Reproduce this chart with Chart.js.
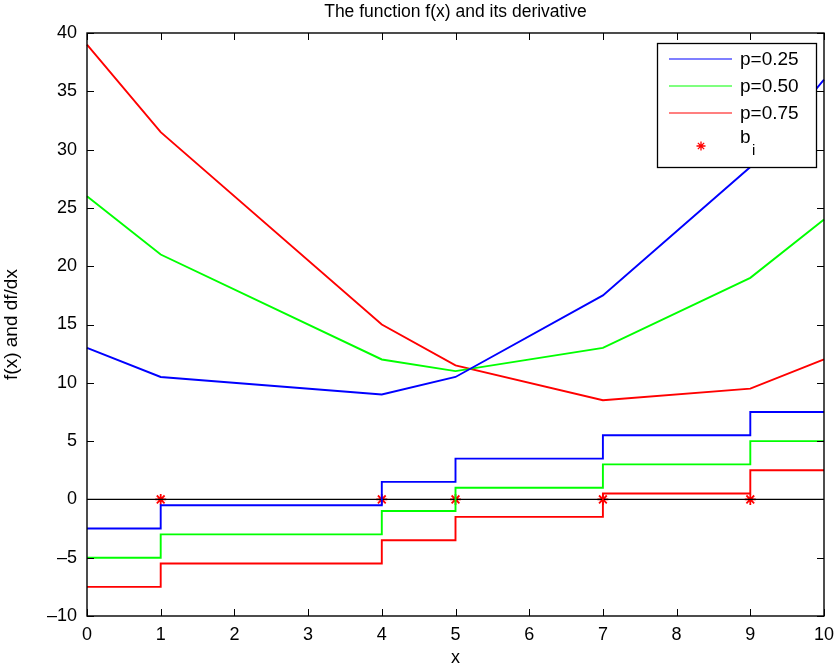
<!DOCTYPE html>
<html>
<head>
<meta charset="utf-8">
<script src="https://cdn.jsdelivr.net/npm/chart.js@4.4.0/dist/chart.umd.min.js"></script>
<style>
  html, body { margin: 0; padding: 0; background: #fff; }
  #wrap { width: 840px; height: 669px; }
</style>
</head>
<body>
<div id="wrap"><canvas id="myChart" width="840" height="669"></canvas></div>
<script>
// breakpoints and values
const xBreaks = [0, 1, 4, 5, 7, 9, 10];
const f25 = [13, 10.5, 9, 10.5, 17.5, 28.5, 36];
const f50 = [26, 21, 12, 11, 13, 19, 24];
const f75 = [39, 31.5, 15, 11.5, 8.5, 9.5, 12];
const d25 = [-2.5, -0.5, 1.5, 3.5, 5.5, 7.5, 7.5];
const d50 = [-5, -3, -1, 1, 3, 5, 5];
const d75 = [-7.5, -5.5, -3.5, -1.5, 0.5, 2.5, 2.5];
const bPoints = [1, 4, 5, 7, 9];
const labels = ['p=0.25', 'p=0.50', 'p=0.75'];
const colors = ['#0000ff', '#00ff00', '#ff0000'];

const FONT = 'Liberation Sans, Arial, sans-serif';

function pts(ys) {
    return xBreaks.map((x, i) => ({x: x, y: ys[i]}));
}

function lineSet(label, ys, color, stepped) {
    return {
        label: label,
        data: pts(ys),
        borderColor: color,
        backgroundColor: color,
        borderWidth: 1.9,
        pointRadius: 0,
        showLine: true,
        stepped: stepped ? true : false,
        tension: 0
    };
}

// inward ticks on all four sides + box
const boxTicks = {
    id: 'boxTicks',
    afterDatasetsDraw(chart) {
        const {ctx, chartArea: a, scales: {x, y}} = chart;
        ctx.save();
        ctx.strokeStyle = '#000';
        ctx.lineWidth = 1;
        ctx.beginPath();
        for (let v = 0; v <= 10; v++) {
            const px = Math.round(x.getPixelForValue(v)) + 0.5;
            ctx.moveTo(px, a.bottom); ctx.lineTo(px, a.bottom - 7);
            ctx.moveTo(px, a.top); ctx.lineTo(px, a.top + 7);
        }
        for (let v = -10; v <= 40; v += 5) {
            const py = Math.round(y.getPixelForValue(v)) + 0.5;
            ctx.moveTo(a.left, py); ctx.lineTo(a.left + 7, py);
            ctx.moveTo(a.right, py); ctx.lineTo(a.right - 7, py);
        }
        ctx.stroke();
        ctx.lineWidth = 1.4;
        ctx.strokeRect(a.left, a.top, a.right - a.left, a.bottom - a.top);
        ctx.restore();
    }
};

// legend box inside the axes, top right
const boxLegend = {
    id: 'boxLegend',
    afterDraw(chart) {
        const {ctx, chartArea: a} = chart;
        const L = a.right - 167, T = a.top + 10, W = 159, H = 124;
        ctx.save();
        ctx.fillStyle = '#fff';
        ctx.fillRect(L, T, W, H);
        ctx.strokeStyle = '#000';
        ctx.lineWidth = 1.3;
        ctx.strokeRect(L + 0.5, T + 0.5, W, H);
        ctx.font = '19px ' + FONT;
        ctx.textBaseline = 'middle';
        ctx.fillStyle = '#000';
        for (let i = 0; i < 3; i++) {
            const yy = T + 16 + i * 27;
            ctx.strokeStyle = colors[i];
            ctx.lineWidth = 1.2;
            ctx.beginPath();
            ctx.moveTo(L + 12, yy); ctx.lineTo(L + 75, yy);
            ctx.stroke();
            ctx.fillText(labels[i], L + 83, yy + 1);
        }
        // b_i row
        const yb = T + 103;
        const cx = L + 44;
        ctx.strokeStyle = '#ff0000';
        ctx.lineWidth = 1.3;
        ctx.beginPath();
        const r = 4.5;
        ctx.moveTo(cx - r, yb); ctx.lineTo(cx + r, yb);
        ctx.moveTo(cx, yb - r); ctx.lineTo(cx, yb + r);
        ctx.moveTo(cx - r * 0.7, yb - r * 0.7); ctx.lineTo(cx + r * 0.7, yb + r * 0.7);
        ctx.moveTo(cx - r * 0.7, yb + r * 0.7); ctx.lineTo(cx + r * 0.7, yb - r * 0.7);
        ctx.stroke();
        ctx.fillText('b', L + 83, yb - 8);
        ctx.font = '15px ' + FONT;
        ctx.fillText('i', L + 95, yb + 5);
        ctx.restore();
    }
};

const ctx = document.getElementById('myChart').getContext('2d');
const myChart = new Chart(ctx, {
    type: 'scatter',
    data: {
        datasets: [
            lineSet(labels[0], f25, colors[0], false),
            lineSet(labels[1], f50, colors[1], false),
            lineSet(labels[2], f75, colors[2], false),
            lineSet(labels[0], d25, colors[0], true),
            lineSet(labels[1], d50, colors[1], true),
            lineSet(labels[2], d75, colors[2], true),
            {
                label: 'zero',
                data: [{x: 0, y: 0}, {x: 10, y: 0}],
                borderColor: '#000',
                borderWidth: 1.1,
                pointRadius: 0,
                showLine: true
            },
            {
                label: 'b_i',
                data: bPoints.map(b => ({x: b, y: 0})),
                pointStyle: 'star',
                pointRadius: 5.5,
                borderColor: '#ff0000',
                backgroundColor: '#ff0000',
                borderWidth: 1.8,
                showLine: false
            }
        ]
    },
    options: {
        responsive: false,
        animation: false,
        clip: false,
        layout: { padding: { left: 0, right: 16, top: 0, bottom: 0 } },
        plugins: {
            legend: { display: false },
            tooltip: { enabled: false },
            title: {
                display: true,
                fullSize: false,
                text: 'The function f(x) and its derivative',
                color: '#000',
                font: { family: FONT, size: 17.5, weight: 'normal', lineHeight: 1.2 },
                padding: { top: 2, bottom: 10 }
            }
        },
        scales: {
            x: {
                type: 'linear',
                min: 0, max: 10,
                grid: { display: false, drawTicks: false },
                border: { display: false },
                ticks: { stepSize: 1, color: '#000', padding: 8, maxRotation: 0,
                         font: { family: FONT, size: 18 } },
                title: { display: true, text: 'x', color: '#000',
                         font: { family: FONT, size: 18 }, padding: 0 },
                afterFit(s) { s.height = 53; s.paddingLeft = 0; s.paddingRight = 0; }
            },
            y: {
                type: 'linear',
                min: -10, max: 40,
                grid: { display: false, drawTicks: false },
                border: { display: false },
                ticks: { stepSize: 5, color: '#000', padding: 10,
                         font: { family: FONT, size: 18 },
                         callback: v => String(v).replace('-', '\u2013') },
                title: { display: true, text: 'f(x) and df/dx', color: '#000',
                         font: { family: FONT, size: 19 }, padding: 0 },
                afterFit(s) { s.width = 87; s.paddingTop = 0; s.paddingBottom = 0; }
            }
        }
    },
    plugins: [boxTicks, boxLegend]
});
</script>
</body>
</html>
